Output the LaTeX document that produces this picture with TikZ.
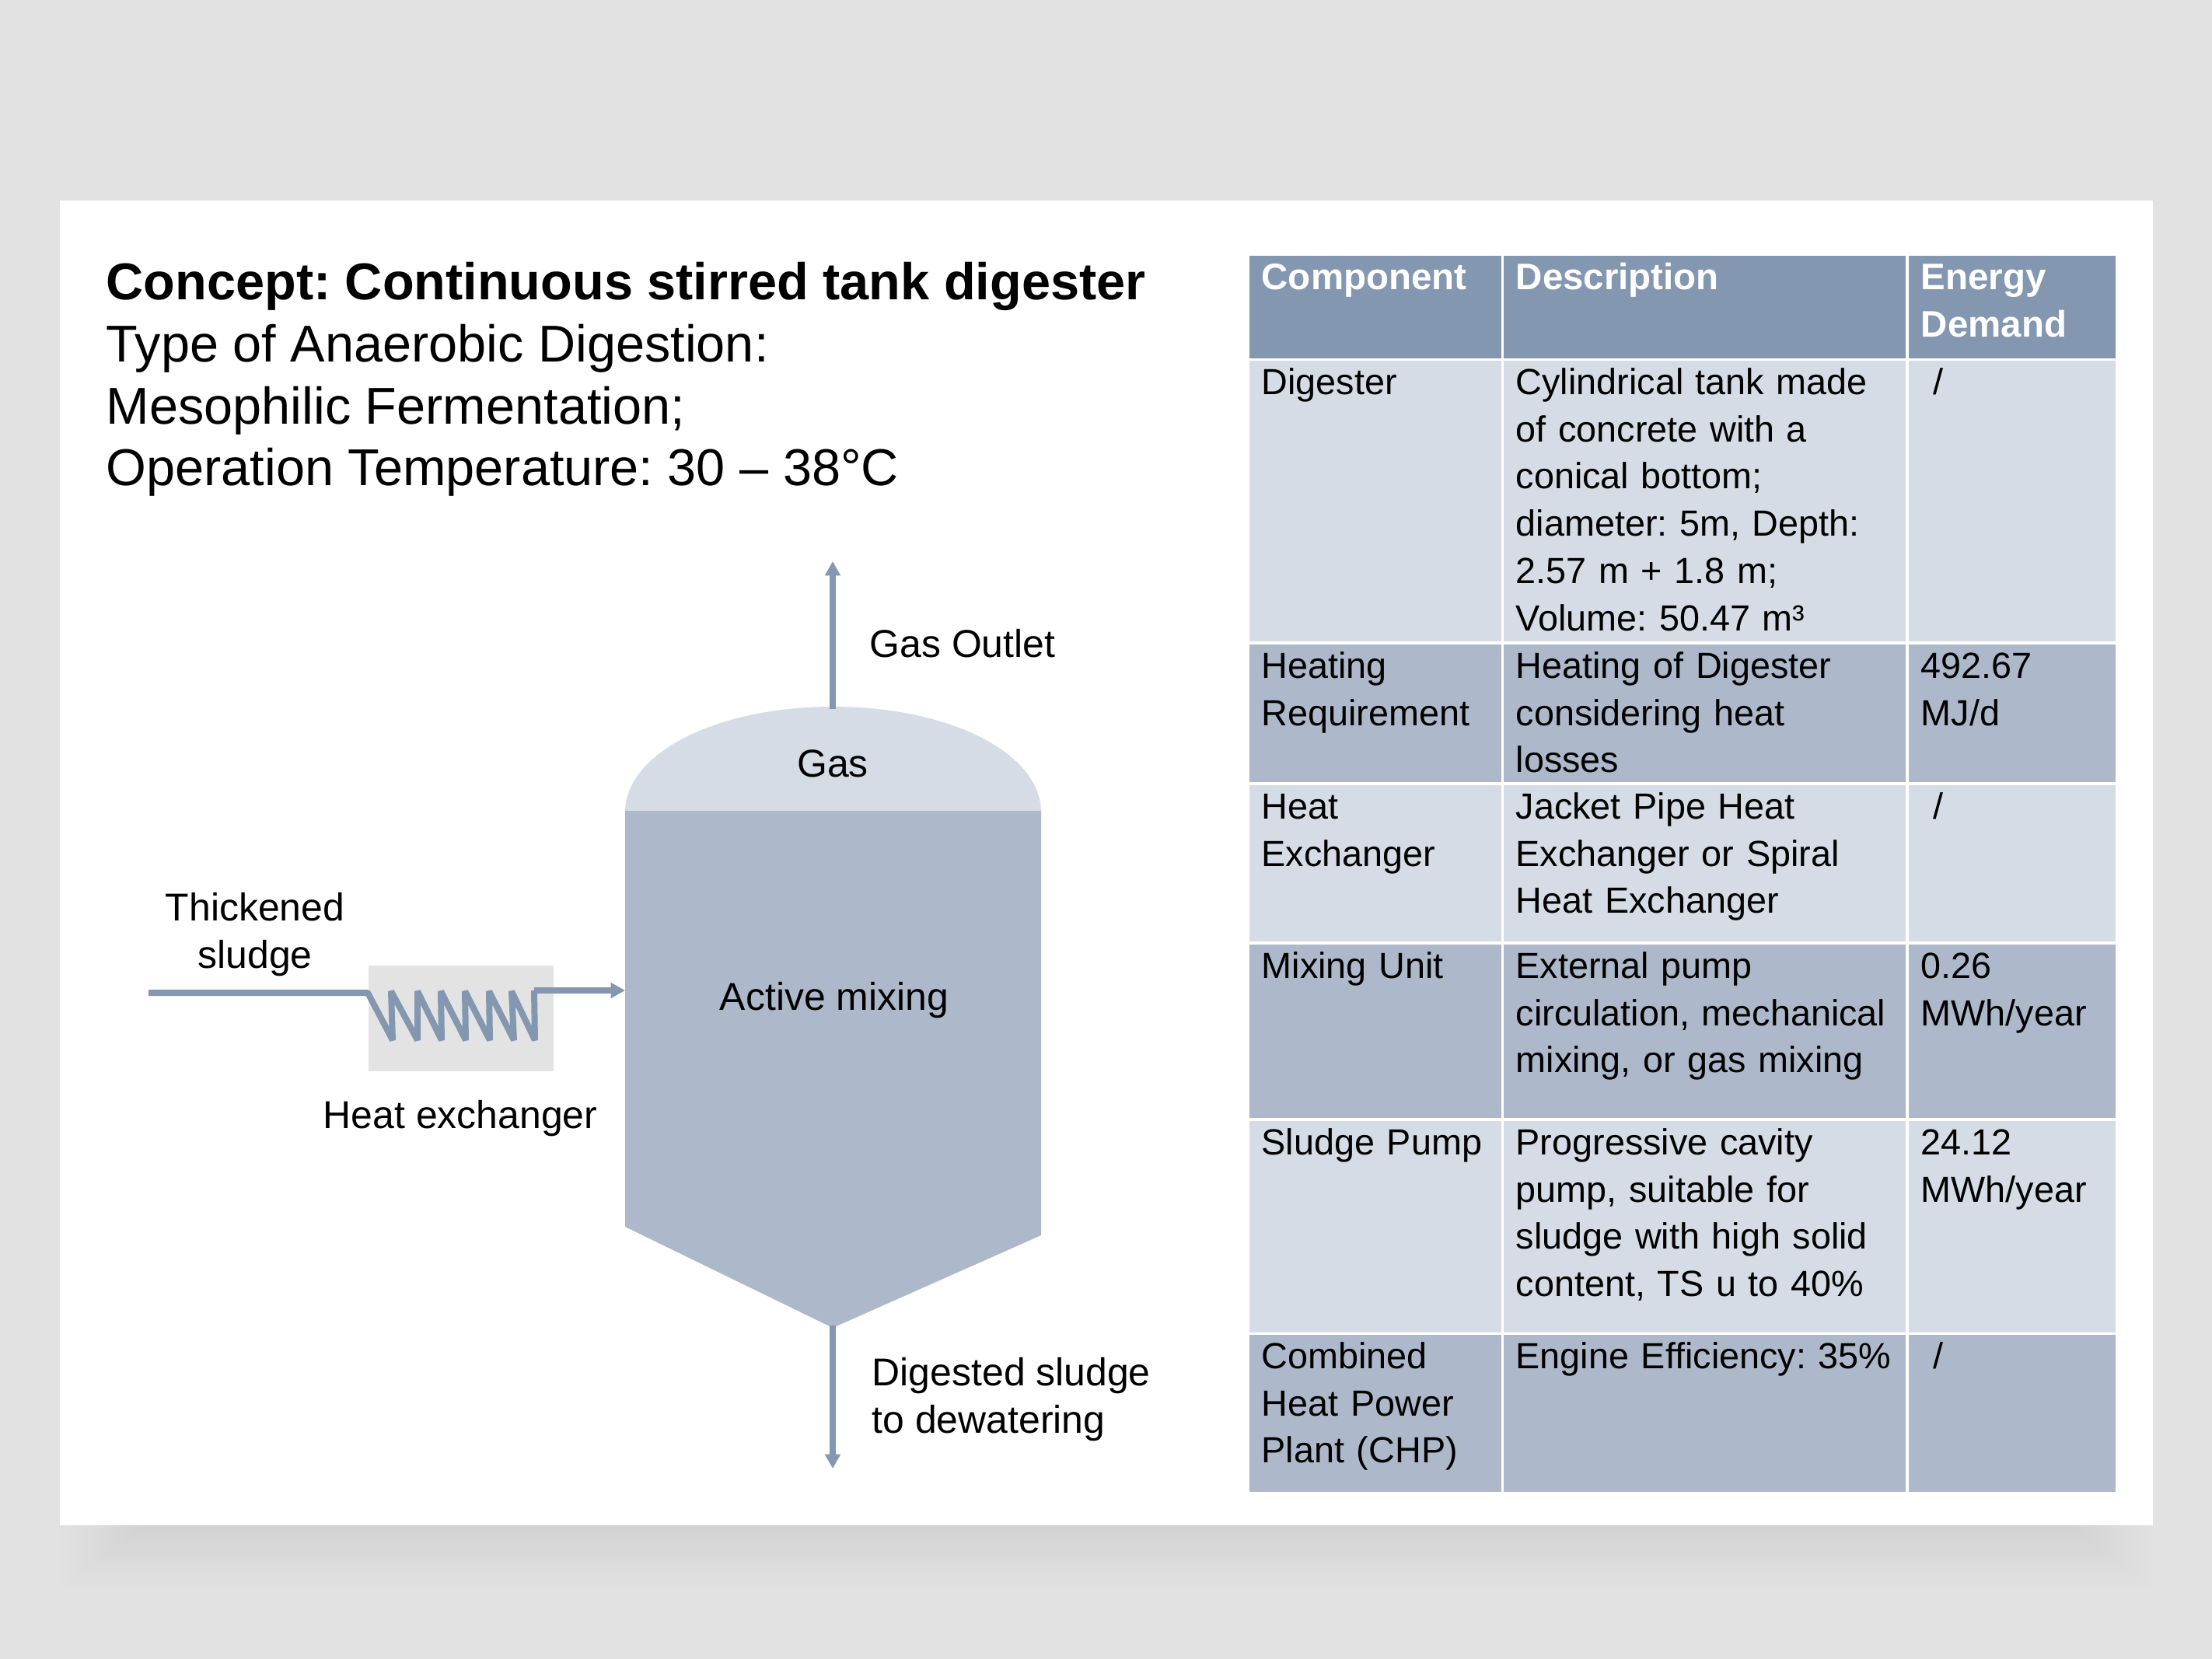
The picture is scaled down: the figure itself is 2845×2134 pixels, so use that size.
\documentclass[tikz,border=0pt]{standalone}
\usepackage{fontspec}
\setmainfont{Liberation Sans}
\usetikzlibrary{arrows.meta,positioning}
\frenchspacing

\newdimen\px
\px=0.01cm

\definecolor{pagegrey}{HTML}{E2E2E2}
\definecolor{boxgrey}{HTML}{E3E3E3}
\definecolor{headblue}{HTML}{8497B0}
\definecolor{darkblue}{HTML}{ADB9CA}
\definecolor{paleblue}{HTML}{D6DCE5}

\tikzset{
    flow/.style={draw=headblue, line width=8\px, line join=bevel},
    flowtip/.style={-{Triangle[length=5.2pt,width=5.4pt]}},
    tag/.style={font=\fontsize{14.2}{17.2}\selectfont, inner sep=0pt},
    cellbox/.style={anchor=north west, inner sep=0pt, draw=none},
    celltext/.style={anchor=north west, inner xsep=16\px, inner ysep=1\px, align=left, font=\fontsize{13.3}{17.3}\selectfont, execute at begin node=\strut},
    headtext/.style={celltext, text=white, font=\fontsize{13.5}{17.3}\selectfont\bfseries},
}

\newcommand{\tablecell}[7]{%
    \node[cellbox, fill=#6, minimum width=#4\px, minimum height=#5\px] (#1) at (#2,#3) {};
    \node[celltext, text width=#4\px-16\px] (#1text) at (#1.north west) {#7};
}
\newcommand{\tablehead}[6]{%
    \node[cellbox, fill=headblue, minimum width=#4\px, minimum height=#5\px] (#1) at (#2,#3) {};
    \node[headtext, text width=#4\px-16\px] (#1text) at (#1.north west) {#6};
}

\begin{document}
\begin{tikzpicture}[x=0.01cm, y=-0.01cm]
    \useasboundingbox (0,0) rectangle (2845,2134);
    \fill[pagegrey] (0,0) rectangle (2845,2134);
    \foreach \i in {1,...,16} {
        \fill[black, opacity=0.0034] ({80+(16-\i)*6.5},1960) rectangle ({2766-(16-\i)*6.5},{1962+\i*5});
    }
    \fill[white] (77,258) rectangle (2769,1962);

    \node[anchor=base west, inner sep=0pt, align=left, font=\fontsize{18.95}{22.7}\selectfont] (title) at (136,625) {\textbf{Concept: Continuous stirred tank digester}\\Type of Anaerobic Digestion:\\Mesophilic Fermentation;\\Operation Temperature: 30 – 38°C};

    \fill[paleblue] (804,1045) .. controls (804,968) and (923,909) .. (1071.5,909) .. controls (1220,909) and (1339,968) .. (1339,1045) -- cycle;
    \fill[darkblue] (804,1043) -- (1339,1043) -- (1339,1589) -- (1071,1708) -- (804,1578) -- cycle;
    \node[tag, anchor=base] (gas) at (1071,999) {Gas};
    \node[tag, anchor=base] (mixing) at (1073,1299) {Active mixing};
    \node[tag, anchor=base west] (gaslabel) at (1118,845) {Gas Outlet};
    \node[tag, anchor=north, align=center] (sludgein) at (328,1148) {Thickened\\sludge};
    \node[tag, anchor=base] (hxlabel) at (592,1451) {Heat exchanger};
    \node[tag, anchor=north west, align=left] (sludgeout) at (1121,1746) {Digested sludge\\to dewatering};

    \node[fill=boxgrey, anchor=north west, inner sep=0pt, minimum width=238\px, minimum height=136\px] (hx) at (473,1241) {};

    \coordinate (gastop) at (1071,912);
    \coordinate (gasout) at (1071,722);
    \coordinate (cone) at (1071,1705);
    \coordinate (drain) at (1071,1889);
    \coordinate (inlet) at (191,1277);
    \coordinate (hxin) at (473,1277);
    \coordinate (hxout) at (687,1274);
    \coordinate (tankin) at (804,1274);

    \draw[flow, flowtip] (gastop) -- (gasout);
    \draw[flow, flowtip] (cone) -- (drain);
    \draw[flow] (inlet) -- (hxin) -- (505,1338) -- (503,1275) -- (537,1338) -- (537,1275) -- (568,1338) -- (567,1275) -- (599,1338) -- (598,1275) -- (630,1338) -- (629,1275) -- (661,1338) -- (658,1275) -- (688,1338) -- (hxout);
    \draw[flow, flowtip] (hxout) -- (tankin);

    \tablehead{head1}{1606}{328}{324}{132}{Component}
    \tablehead{head2}{1933}{328}{517}{132}{Description}
    \tablehead{head3}{2454}{328}{266}{132}{Energy\\Demand}

    \tablecell{dig1}{1606}{463}{324}{361}{paleblue}{Digester}
    \tablecell{dig2}{1933}{463}{517}{361}{paleblue}{Cylindrical tank made\\of concrete with a\\conical bottom;\\diameter: 5m, Depth:\\2.57 m + 1.8 m;\\Volume: 50.47 m³}
    \tablecell{dig3}{2454}{463}{266}{361}{paleblue}{~/}

    \tablecell{req1}{1606}{828}{324}{177}{darkblue}{Heating\\Requirement}
    \tablecell{req2}{1933}{828}{517}{177}{darkblue}{Heating of Digester\\considering heat\\losses}
    \tablecell{req3}{2454}{828}{266}{177}{darkblue}{492.67\\MJ/d}

    \tablecell{hex1}{1606}{1009}{324}{201}{paleblue}{Heat\\Exchanger}
    \tablecell{hex2}{1933}{1009}{517}{201}{paleblue}{Jacket Pipe Heat\\Exchanger or Spiral\\Heat Exchanger}
    \tablecell{hex3}{2454}{1009}{266}{201}{paleblue}{~/}

    \tablecell{mix1}{1606}{1214}{324}{223}{darkblue}{Mixing Unit}
    \tablecell{mix2}{1933}{1214}{517}{223}{darkblue}{External pump\\circulation, mechanical\\mixing, or gas mixing}
    \tablecell{mix3}{2454}{1214}{266}{223}{darkblue}{0.26\\MWh/year}

    \tablecell{pump1}{1606}{1441}{324}{272}{paleblue}{Sludge Pump}
    \tablecell{pump2}{1933}{1441}{517}{272}{paleblue}{Progressive cavity\\pump, suitable for\\sludge with high solid\\content, TS u to 40\%}
    \tablecell{pump3}{2454}{1441}{266}{272}{paleblue}{24.12\\MWh/year}

    \tablecell{chp1}{1606}{1716}{324}{202}{darkblue}{Combined\\Heat Power\\Plant (CHP)}
    \tablecell{chp2}{1933}{1716}{517}{202}{darkblue}{Engine Efficiency: 35\%}
    \tablecell{chp3}{2454}{1716}{266}{202}{darkblue}{~/}
\end{tikzpicture}
\end{document}
